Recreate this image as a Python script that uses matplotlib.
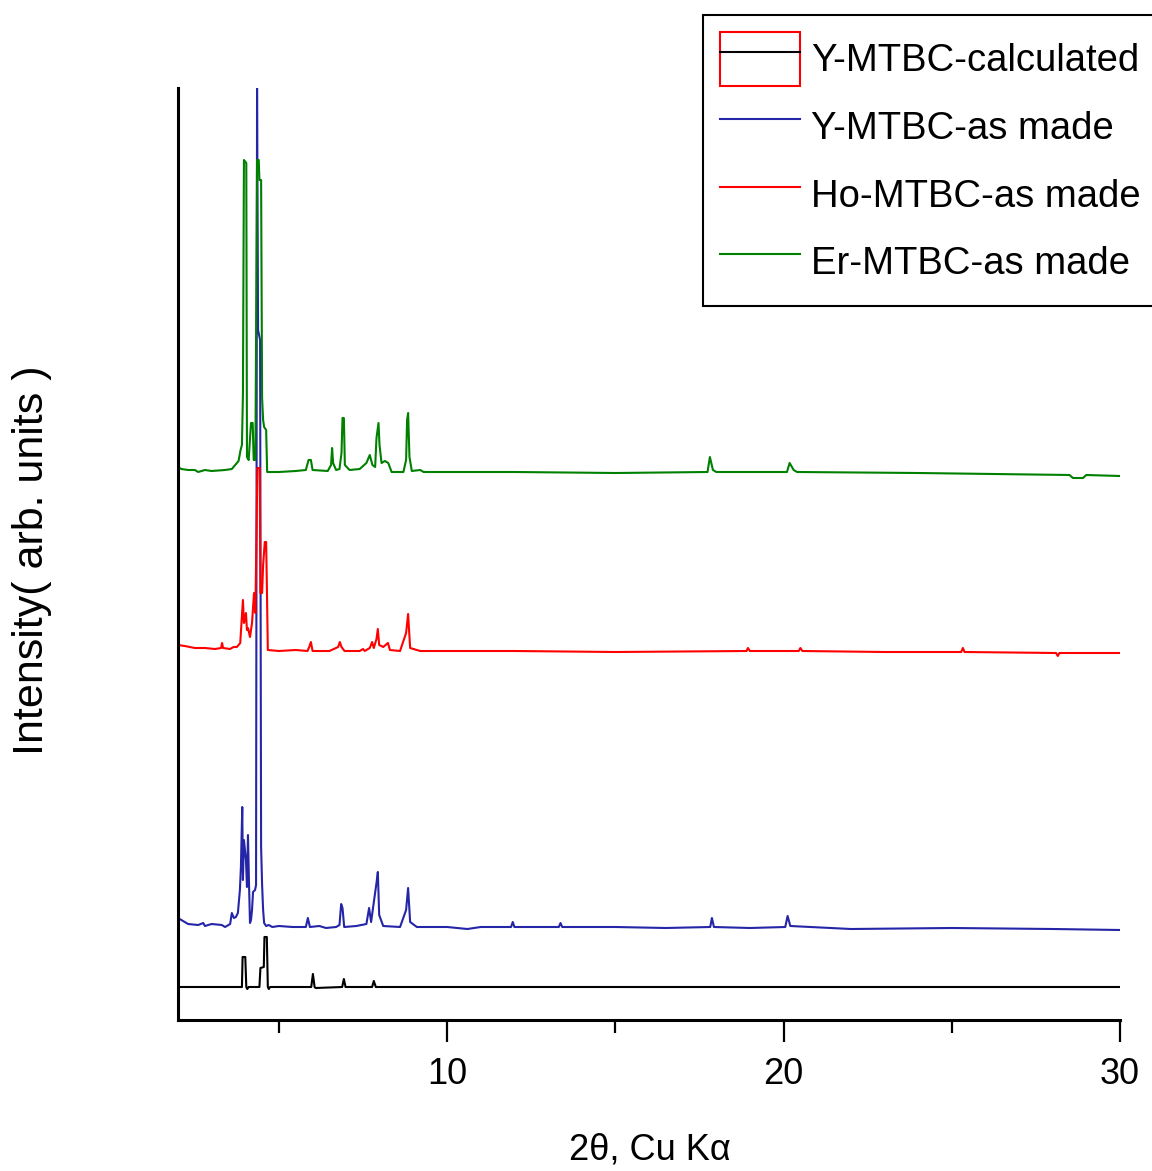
import numpy as np
import matplotlib
matplotlib.use("Agg")
import matplotlib.pyplot as plt
from matplotlib.patches import Rectangle
from matplotlib.legend_handler import HandlerTuple

# XRD patterns, 2theta (deg) vs intensity above each trace's own baseline (arb. units)
calc_pts = [(2.00, 0), (3.90, 0), (3.92, 30), (4.00, 30), (4.03, 0), (4.06, -2), (4.10, 0),
            (4.42, 0), (4.45, 19), (4.55, 20), (4.57, 50), (4.64, 50), (4.67, 0), (4.70, -2),
            (4.74, 0), (5.96, 0), (6.01, 13), (6.06, 0), (6.09, -1), (6.88, 0), (6.93, 8),
            (6.98, 0), (7.77, 0), (7.82, 6), (7.88, 0), (30.0, 0)]

y_made_pts = [(2.00, 12), (2.15, 9), (2.30, 6), (2.60, 5), (2.75, 7), (2.80, 4), (3.00, 6),
              (3.30, 5), (3.40, 3), (3.55, 6), (3.60, 17), (3.66, 12), (3.72, 13), (3.78, 17),
              (3.84, 40), (3.87, 63), (3.91, 123), (3.93, 50), (3.96, 90), (3.99, 80),
              (4.02, 70), (4.05, 43), (4.08, 95), (4.11, 47), (4.14, 7), (4.17, 10), (4.20, 20),
              (4.23, 38), (4.29, 40), (4.32, 45), (4.35, 842), (4.38, 600), (4.44, 590),
              (4.47, 83), (4.50, 45), (4.53, 20), (4.56, 7), (4.62, 4), (4.70, 5), (4.80, 3),
              (5.00, 4), (5.40, 3), (5.80, 3), (5.86, 12), (5.92, 3), (6.20, 4), (6.40, 2),
              (6.70, 3), (6.80, 5), (6.85, 26), (6.89, 22), (6.94, 3), (7.30, 4), (7.60, 6),
              (7.68, 22), (7.74, 8), (7.85, 35), (7.90, 47), (7.94, 58), (7.98, 15), (8.10, 4),
              (8.60, 3), (8.78, 20), (8.84, 42), (8.90, 8), (9.10, 3), (10.0, 3), (10.6, 1),
              (11.0, 3), (11.90, 3), (11.95, 8), (12.0, 3), (13.0, 3), (13.32, 3), (13.37, 7),
              (13.42, 3), (15.0, 3), (16.5, 2), (17.82, 3), (17.87, 12), (17.93, 3), (19.0, 2),
              (20.05, 3), (20.12, 14), (20.20, 4), (22.0, 1), (25.0, 2), (28.0, 1), (30.0, 0)]

ho_made_pts = [(2.00, 8), (2.20, 7), (2.50, 5), (2.80, 5), (3.10, 4), (3.28, 5), (3.31, 10),
               (3.34, 5), (3.55, 4), (3.65, 6), (3.75, 6), (3.85, 10), (3.93, 53), (3.96, 30),
               (3.99, 33), (4.02, 40), (4.05, 23), (4.08, 25), (4.14, 16), (4.20, 30),
               (4.26, 60), (4.30, 40), (4.36, 185), (4.43, 185), (4.45, 60), (4.50, 60),
               (4.53, 88), (4.58, 111), (4.62, 111), (4.64, 70), (4.67, 3), (5.00, 2),
               (5.50, 3), (5.85, 2), (5.90, 6), (5.95, 11), (6.00, 2), (6.50, 2), (6.76, 6),
               (6.81, 11), (6.86, 6), (6.95, 2), (7.40, 2), (7.50, 4), (7.55, 2), (7.70, 5),
               (7.77, 11), (7.82, 5), (7.90, 14), (7.94, 24), (7.98, 8), (8.10, 6), (8.24, 10),
               (8.30, 3), (8.60, 2), (8.78, 20), (8.84, 39), (8.90, 5), (9.20, 2), (12.0, 2),
               (15.0, 1), (18.90, 2), (18.94, 5), (19.0, 2), (20.45, 2), (20.50, 5),
               (20.56, 2), (23.0, 1), (25.28, 1), (25.33, 5), (25.38, 1), (28.10, 0),
               (28.15, -3), (28.20, 0), (30.0, 0)]

er_made_pts = [(2.00, 8), (2.10, 6), (2.30, 5), (2.50, 5), (2.60, 3), (2.80, 5), (3.00, 4),
               (3.40, 5), (3.60, 6), (3.70, 10), (3.80, 14), (3.86, 25), (3.90, 30), (3.93, 80),
               (3.96, 315), (4.03, 312), (4.05, 18), (4.10, 15), (4.17, 52), (4.22, 52),
               (4.25, 15), (4.30, 15), (4.35, 315), (4.40, 315), (4.42, 295), (4.47, 295),
               (4.50, 77), (4.53, 55), (4.56, 48), (4.62, 45), (4.65, 3), (4.75, 3), (5.00, 3),
               (5.50, 4), (5.80, 5), (5.88, 15), (5.95, 15), (6.00, 5), (6.45, 4), (6.55, 10),
               (6.58, 27), (6.61, 12), (6.70, 5), (6.80, 6), (6.86, 22), (6.89, 57), (6.93, 57),
               (6.96, 10), (7.10, 5), (7.40, 6), (7.60, 12), (7.70, 20), (7.78, 10), (7.86, 8),
               (7.90, 37), (7.96, 52), (7.99, 30), (8.05, 12), (8.15, 14), (8.25, 12),
               (8.35, 3), (8.70, 3), (8.78, 15), (8.81, 55), (8.84, 62), (8.88, 18), (8.95, 4),
               (9.20, 5), (9.30, 3), (12.0, 3), (15.0, 2), (17.74, 3), (17.81, 18), (17.90, 5),
               (18.0, 3), (20.10, 3), (20.18, 12), (20.30, 5), (20.40, 3), (24.0, 2),
               (28.50, 0), (28.60, -3), (28.90, -3), (29.0, 0), (30.0, -1)]

offsets = [33, 90, 367, 545]
labels = ["Y-MTBC-calculated", "Y-MTBC-as made", "Ho-MTBC-as made", "Er-MTBC-as made"]
colors = ["#000000", "#2525a8", "#ff0000", "#008000"]
series = [calc_pts, y_made_pts, ho_made_pts, er_made_pts]

sans = ["Liberation Sans", "DejaVu Sans"]
plt.rcParams["font.family"] = sans

fig = plt.figure(figsize=(11.52, 11.71), dpi=100)
W, H = 1152, 1171
ax = fig.add_axes([178 / W, 1 - 1020 / H, (1120 - 178) / W, (1020 - 88) / H])

lines = []
for pts, off, col in zip(series, offsets, colors):
    tt, inten = np.array(pts, dtype=float).T
    ln, = ax.plot(tt, inten + off, color=col, lw=1.5)
    lines.append(ln)

ax.set_xlim(2, 30)
ax.set_ylim(0, 932)
ax.spines["top"].set_visible(False)
ax.spines["right"].set_visible(False)
ax.spines["left"].set_linewidth(2.2)
ax.spines["bottom"].set_linewidth(2.2)
ax.set_yticks([])
ax.set_xticks([10, 20, 30])
ax.set_xticks([5, 15, 25], minor=True)
ax.tick_params(axis="x", which="major", length=16, width=1.6, pad=11, labelsize=26)
ax.tick_params(axis="x", which="minor", length=9, width=1.6)

fig.text(650 / W, 1 - 1150 / H, "2θ, Cu Kα", ha="center", va="center", fontsize=26)
fig.text(32 / W, 1 - 560 / H, "Intensity( arb. units )", rotation=90, ha="center",
         va="center", fontsize=31)

# calculated trace shown with a red selection box around its legend line
sel_box = Rectangle((0, 0), 1, 1, facecolor="none", edgecolor="#ff0000", lw=1.5)
handles = [(sel_box, lines[0]), lines[1], lines[2], lines[3]]
leg = fig.legend(handles, labels, loc="upper left",
                 bbox_to_anchor=(703 / W, 1 - 15 / H), bbox_transform=fig.transFigure,
                 borderaxespad=0, prop={"size": 27.5},
                 handler_map={tuple: HandlerTuple(ndivide=1)},
                 handlelength=2.1, handleheight=1.79, handletextpad=0.27,
                 labelspacing=0.36, borderpad=0.45, fancybox=False, framealpha=1)
leg.get_frame().set_edgecolor("black")
leg.get_frame().set_linewidth(1.5)

fig.savefig("out.png", dpi=100)
